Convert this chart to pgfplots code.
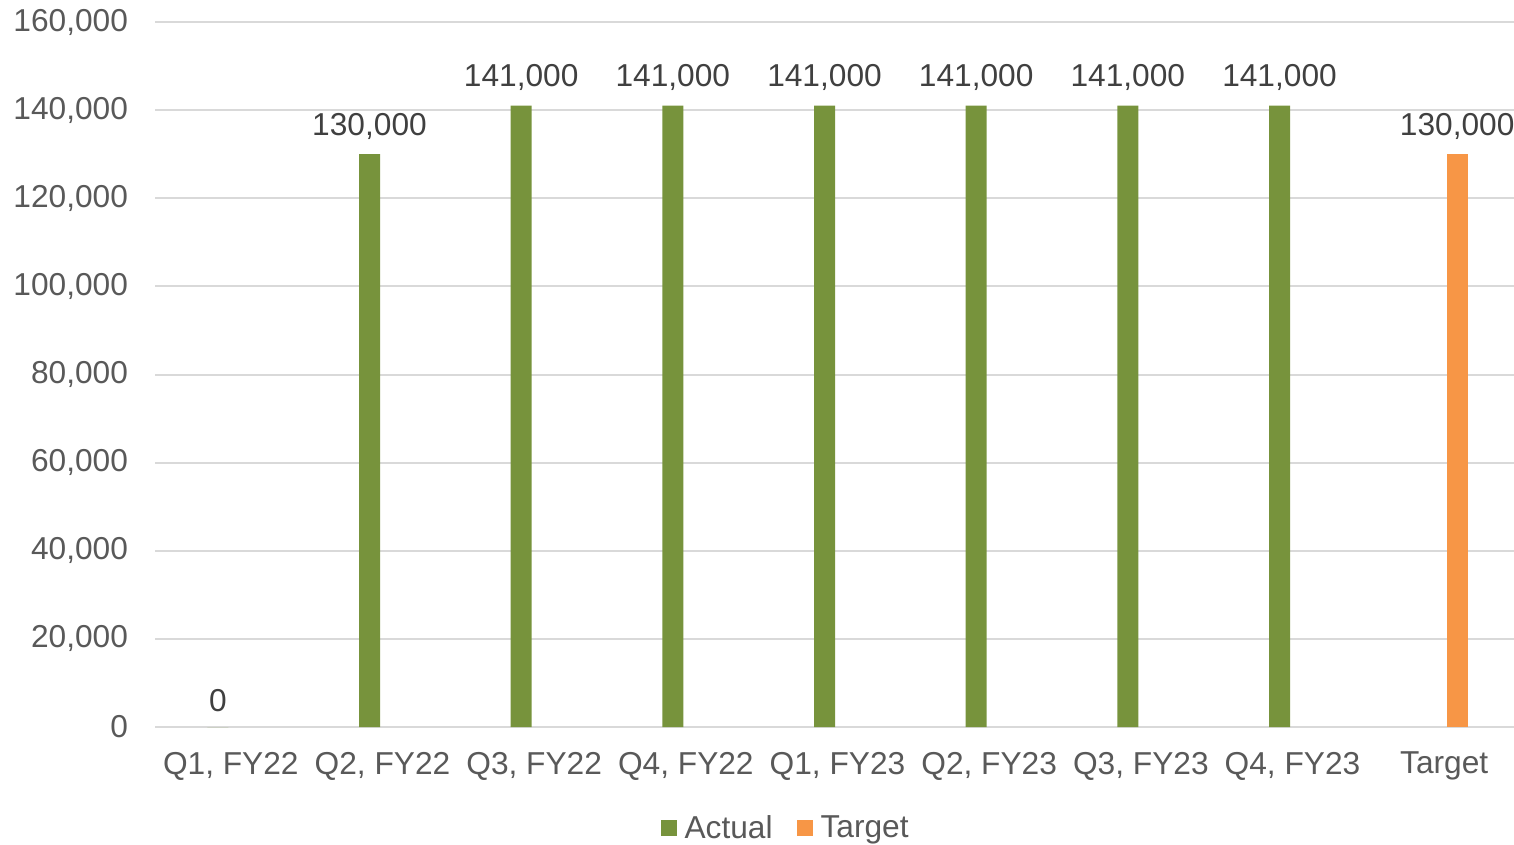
\documentclass[border=0pt]{standalone}
\usepackage{pgfplots}
\pgfplotsset{compat=1.18}
\usepackage{fontspec}
\setmainfont{Liberation Sans}
\usetikzlibrary{calc}
\definecolor{actualc}{HTML}{77933C}
\definecolor{targetc}{HTML}{F79646}
\definecolor{tickc}{HTML}{595959}
\definecolor{labc}{HTML}{404040}
\definecolor{gridc}{HTML}{D9D9D9}
\begin{document}
\begin{tikzpicture}
\begin{axis}[
width=682.5bp, height=352.5bp,
scale only axis,
xmin=-0.5, xmax=8.5,
ymin=0, ymax=160000,
ytick={0,20000,...,160000},
xtick={0,...,8},
xticklabels={{Q1, FY22},{Q2, FY22},{Q3, FY22},{Q4, FY22},{Q1, FY23},{Q2, FY23},{Q3, FY23},{Q4, FY23},Target},
scaled y ticks=false,
/pgf/number format/.cd, fixed, 1000 sep={,}, assume math mode=true,
/pgfplots/.cd,
ticklabel style={font=\fontsize{15.9}{19}\selectfont, text=tickc},
yticklabel style={xshift=-10bp},
xticklabel style={yshift=-9bp},
major tick length=0pt,
axis x line*=bottom,
axis y line*=left,
y axis line style={draw=none},
x axis line style={gridc, line width=1bp},
ymajorgrids,
grid style={gridc, line width=1bp},
axis line style={-},
area legend,
legend style={at={(0.4627,-0.1433)}, anchor=center, draw=none, fill=none,
  legend columns=2, font=\fontsize{15.9}{19}\selectfont, text=tickc,
  /tikz/every even column/.append style={column sep=10bp},
  /tikz/every odd column/.append style={column sep=2bp}},
legend image code/.code={\fill[#1] (0bp,-4bp) rectangle (8bp,4bp);},
nodes near coords,
nodes near coords style={font=\fontsize{15.9}{19}\selectfont, text=labc, anchor=south, yshift=4bp},
]
\addplot[ybar, bar width=10.5bp, bar shift=-6.5bp, draw=none, fill=actualc,
  nodes near coords style={xshift=-6.5bp}] coordinates {
(0,0) (1,130000) (2,141000) (3,141000) (4,141000) (5,141000) (6,141000) (7,141000)};
\addlegendentry{Actual}
\addplot[ybar, bar width=10.5bp, bar shift=6.5bp, draw=none, fill=targetc,
  nodes near coords style={xshift=6.5bp}] coordinates {
(8,130000)};
\addlegendentry{Target}
\end{axis}
\pgfresetboundingbox
\path ($(current axis.south west)+(-77.5bp,-58.5bp)$) rectangle ($(current axis.north east)+(-3bp,11bp)$);
\end{tikzpicture}
\end{document}
